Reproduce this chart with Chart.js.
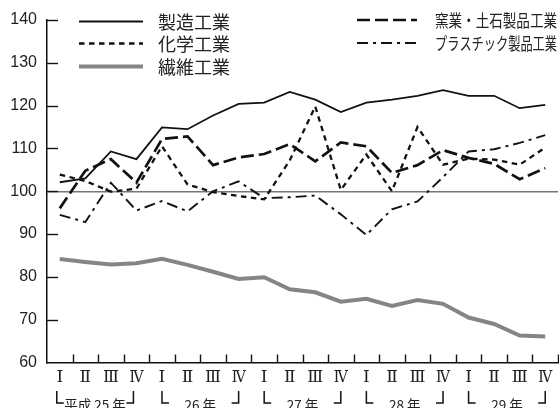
<!DOCTYPE html>
<html>
<head>
<meta charset="utf-8">
<script src="https://cdn.jsdelivr.net/npm/chart.js@4.4.1/dist/chart.umd.min.js"></script>
<style>
  html, body { margin: 0; padding: 0; background: #fff; }
  #wrap { width: 559px; height: 408px; position: relative; }
</style>
</head>
<body>
<div id="wrap"><canvas id="c" width="559" height="408"></canvas></div>
<script>
// ---- data ----
const quarterLabels = ['Ⅰ','Ⅱ','Ⅲ','Ⅳ','Ⅰ','Ⅱ','Ⅲ','Ⅳ','Ⅰ','Ⅱ','Ⅲ','Ⅳ','Ⅰ','Ⅱ','Ⅲ','Ⅳ','Ⅰ','Ⅱ','Ⅲ','Ⅳ'];
const yearLabels = ['平成 25 年','26 年','27 年','28 年','29 年'];
const seriesNames = ['製造工業','化学工業','繊維工業','窯業・土石製品工業','プラスチック製品工業'];
const seizo   = [102.1,103.0,109.3,107.5,114.9,114.5,117.7,120.4,120.7,123.2,121.4,118.5,120.7,121.4,122.3,123.6,122.3,122.3,119.4,120.2];
const kagaku  = [103.9,102.4,99.9,100.6,110.5,101.6,99.8,98.9,98.1,107.2,119.8,100.3,108.6,100.0,115.0,106.2,107.6,107.4,106.2,110.2];
const seni    = [84.2,83.5,82.9,83.2,84.2,82.8,81.2,79.5,79.9,77.1,76.4,74.2,74.9,73.2,74.6,73.7,70.5,69.0,66.3,66.1];
const yogyo   = [96.0,104.8,107.5,102.0,112.2,112.8,106.1,107.9,108.7,111.0,107.0,111.4,110.5,104.3,106.1,109.6,107.8,106.4,102.8,105.4];
const plastic = [94.5,92.8,102.0,95.5,97.7,95.3,100.0,102.3,98.4,98.6,99.0,94.6,89.8,95.8,97.6,103.3,109.3,109.8,111.3,113.1];
const yMin = 60, yMax = 140, yStep = 10, baseLine = 100;

const styles = [
  { color: '#111', width: 1.8, dash: [] },
  { color: '#111', width: 2.3, dash: [5.5, 4.5] },
  { color: '#858585', width: 4, dash: [] },
  { color: '#111', width: 2.7, dash: [13, 5] },
  { color: '#111', width: 1.9, dash: [11, 5, 3, 5] }
];
const values = [seizo, kagaku, seni, yogyo, plastic];

const datasets = values.map((v, i) => ({
  label: seriesNames[i],
  data: v,
  borderColor: styles[i].color,
  borderWidth: styles[i].width,
  borderDash: styles[i].dash,
  pointRadius: 0,
  fill: false,
  tension: 0,
  borderCapStyle: 'butt',
  borderJoinStyle: 'miter'
}));

const CJK = '"Noto Sans CJK JP", "Noto Sans", sans-serif';
const SERIF = '"DejaVu Serif", "Liberation Serif", serif';
const numeralWidth = { 'Ⅰ': 8, 'Ⅱ': 13, 'Ⅲ': 16, 'Ⅳ': 14 };

const decoPlugin = {
  id: 'deco',
  afterDraw(chart) {
    const ctx = chart.ctx;
    const xs = chart.scales.x, ys = chart.scales.y;
    const area = chart.chartArea;
    ctx.save();
    ctx.strokeStyle = '#111';
    ctx.lineWidth = 1.4;
    ctx.setLineDash([]);
    // inward y ticks
    for (let v = yMin + yStep; v <= yMax; v += yStep) {
      const y = Math.round(ys.getPixelForValue(v)) + 0.5;
      ctx.beginPath(); ctx.moveTo(area.left, y); ctx.lineTo(area.left + 11, y); ctx.stroke();
    }
    // inward x ticks at category boundaries
    const n = quarterLabels.length;
    const w = (area.right - area.left) / n;
    for (let i = 1; i <= n; i++) {
      const x = Math.round(xs.getPixelForValue(i - 1) + w / 2) + 0.5;
      ctx.beginPath(); ctx.moveTo(x, area.bottom); ctx.lineTo(x, area.bottom - 8); ctx.stroke();
    }
    // quarter labels (serif roman numerals)
    ctx.fillStyle = '#222';
    ctx.font = '17px ' + SERIF;
    ctx.textAlign = 'center';
    ctx.textBaseline = 'middle';
    quarterLabels.forEach((t, i) => {
      ctx.fillText(t, xs.getPixelForValue(i), 378, numeralWidth[t] || 16);
    });
    // year brackets and labels
    ctx.font = '13.5px ' + CJK;
    ctx.lineWidth = 1.5;
    yearLabels.forEach((t, g) => {
      const off = g === 0 ? -3 : 0;
      const x1 = xs.getPixelForValue(g * 4) + off;
      const x2 = xs.getPixelForValue(g * 4 + 3) + off;
      ctx.beginPath();
      ctx.moveTo(x1, 391); ctx.lineTo(x1, 403); ctx.lineTo(x1 + 7, 403);
      ctx.moveTo(x2, 391); ctx.lineTo(x2, 403); ctx.lineTo(x2 - 7, 403);
      ctx.stroke();
      ctx.fillText(t, (x1 + x2) / 2, 405);
    });
    // legend
    const legendPos = [
      { lx1: 79, lx2: 143, tx: 158, y: 21.5, font: '18px ' + CJK, maxW: 74 },
      { lx1: 79, lx2: 143, tx: 158, y: 43.5, font: '18px ' + CJK, maxW: 74 },
      { lx1: 79, lx2: 143, tx: 158, y: 66.5, font: '18px ' + CJK, maxW: 74 },
      { lx1: 357, lx2: 417, tx: 435, y: 20, font: '17px ' + CJK, maxW: 122 },
      { lx1: 357, lx2: 417, tx: 435, y: 43, font: '17px ' + CJK, maxW: 122 }
    ];
    chart.data.datasets.forEach((ds, i) => {
      const p = legendPos[i];
      ctx.strokeStyle = ds.borderColor;
      ctx.lineWidth = ds.borderWidth;
      ctx.setLineDash(ds.borderDash);
      ctx.beginPath(); ctx.moveTo(p.lx1, p.y); ctx.lineTo(p.lx2, p.y); ctx.stroke();
      ctx.setLineDash([]);
      ctx.fillStyle = '#222';
      ctx.font = p.font;
      ctx.textAlign = 'left';
      ctx.textBaseline = 'middle';
      ctx.fillText(ds.label, p.tx, p.y + 1, p.maxW);
    });
    ctx.restore();
  }
};

new Chart(document.getElementById('c'), {
  type: 'line',
  data: { labels: quarterLabels, datasets },
  options: {
    responsive: false,
    animation: false,
    layout: { padding: { top: 20, right: 1, left: 0, bottom: 0 } },
    plugins: { legend: { display: false }, tooltip: { enabled: false } },
    scales: {
      x: {
        type: 'category',
        offset: true,
        grid: { display: false, drawTicks: false },
        border: { display: true, color: '#111', width: 1.5 },
        ticks: { display: false },
        afterFit(s) { s.height = 45.5; }
      },
      y: {
        min: yMin, max: yMax,
        grid: {
          drawTicks: false,
          color: c => (c.tick && c.tick.value === baseLine) ? '#777' : 'rgba(0,0,0,0)',
          lineWidth: 1.5
        },
        border: { display: true, color: '#111', width: 1.5 },
        ticks: { stepSize: yStep, font: { family: '"Liberation Sans", Arial, sans-serif', size: 16 }, color: '#222', padding: 10 },
        afterFit(s) { s.width = 47; }
      }
    }
  },
  plugins: [decoPlugin]
});
</script>
</body>
</html>
